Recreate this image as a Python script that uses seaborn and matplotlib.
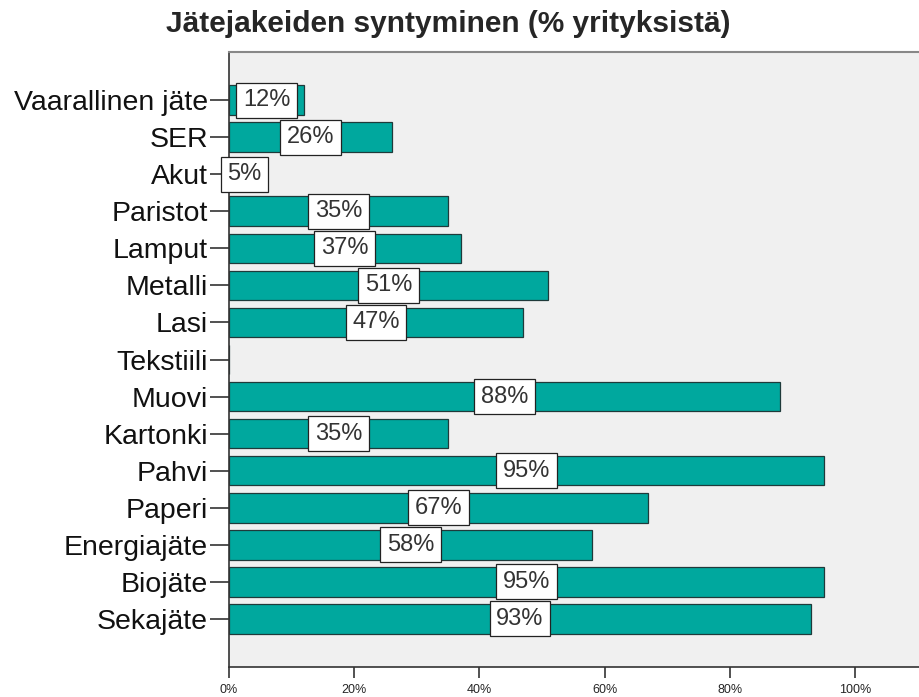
import matplotlib
matplotlib.use("Agg")
import matplotlib.pyplot as plt
import seaborn as sns
import pandas as pd
from matplotlib.ticker import FuncFormatter

categories = ["Vaarallinen jäte", "SER", "Akut", "Paristot", "Lamput", "Metalli",
              "Lasi", "Tekstiili", "Muovi", "Kartonki", "Pahvi", "Paperi",
              "Energiajäte", "Biojäte", "Sekajäte"]
shares = [12, 26, 5, 35, 37, 51, 47, 0, 88, 35, 95, 67, 58, 95, 93]
x_ticks = [0, 20, 40, 60, 80, 100]

df = pd.DataFrame({"jae": categories, "osuus": shares})

sns.set_style("white")
plt.rcParams["font.family"] = ["Liberation Sans", "DejaVu Sans"]

fig = plt.figure(figsize=(9.2, 6.97), dpi=100)
ax = fig.add_axes([0.2489, 0.043, 0.7511, 0.8824])
ax.set_facecolor("#F0F0F0")

sns.barplot(data=df, x="osuus", y="jae", orient="h", color="#00A89E",
            saturation=1, width=0.8, edgecolor="#1F3A3A", linewidth=0.9, ax=ax)

# SPSS style value labels in white boxes, centred on the bars
labels = [f"{v}%" if v > 0 else "" for v in shares]
ax.bar_label(ax.containers[0], labels=labels, label_type="center",
             fontsize=17, color="#333333",
             bbox=dict(boxstyle="square,pad=0.28", facecolor="white",
                       edgecolor="#222222", linewidth=0.9))

ax.set_xlim(0, 110.4)
ax.set_ylim(len(categories) - 1 + 1.3, -1.3)
ax.set_xticks(x_ticks)
ax.xaxis.set_major_formatter(FuncFormatter(lambda v, p: f"{v:.0f}%"))
ax.set_xlabel("")
ax.set_ylabel("")
ax.tick_params(axis="x", labelsize=9, length=8, width=1.2, color="#333333",
               direction="out", pad=4, bottom=True)
ax.tick_params(axis="y", labelsize=20.5, length=14, width=1.2, color="#333333",
               labelcolor="#111111", direction="out", pad=1, left=True)

for side in ["left", "bottom"]:
    ax.spines[side].set_color("#333333")
    ax.spines[side].set_linewidth(1.2)
ax.spines["top"].set_color("#888888")
ax.spines["top"].set_linewidth(1.5)
ax.spines["right"].set_visible(False)

fig.text(0.487, 0.966, "Jätejakeiden syntyminen (% yrityksistä)",
         ha="center", va="center", fontsize=21.5, fontweight="bold")

fig.savefig("out.png", dpi=100)
